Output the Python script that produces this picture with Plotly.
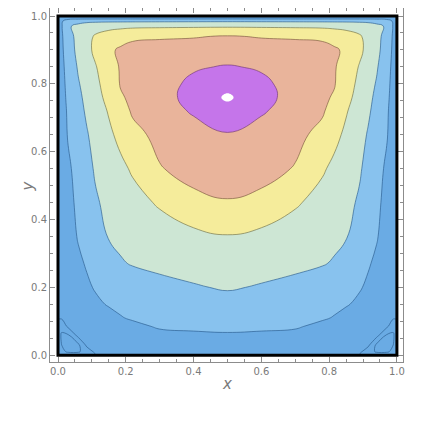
import plotly.graph_objects as go

# grid positions (nonuniform, denser near the walls and the lid)
x_vals = [0, 0.01, 0.03, 0.06, 0.085, 0.11, 0.15, 0.185, 0.22, 0.3, 0.4, 0.5,
          0.6, 0.7, 0.78, 0.815, 0.85, 0.89, 0.915, 0.94, 0.97, 0.99, 1.0]
y_vals = [0, 0.01, 0.03, 0.06, 0.085, 0.11, 0.15, 0.2, 0.27, 0.35, 0.45,
          0.55, 0.65, 0.72, 0.76, 0.8, 0.85, 0.9, 0.94, 0.97, 0.985, 0.995, 1.0]

# stream function values, in contour-level units
psi = [
    [-0.4, -0.4, -0.4, -0.4, -0.3, -0.03, 0.3, 0.3, 0.3, 0.3, 0.3, 0.3, 0.3, 0.3, 0.3, 0.3, 0.3, -0.03, -0.3, -0.4, -0.4, -0.4, -0.4],
    [-0.4, -0.8, -1.1, -1.1, -0.6, 0.2, 0.33, 0.345, 0.36, 0.38, 0.40, 0.41, 0.40, 0.38, 0.36, 0.345, 0.33, 0.2, -0.6, -1.1, -1.1, -0.8, -0.4],
    [-0.4, -0.98, -1.4, -1.2, 0.23, 0.45, 0.5, 0.525, 0.55, 0.58, 0.6, 0.62, 0.6, 0.58, 0.55, 0.525, 0.5, 0.45, 0.23, -1.2, -1.4, -0.98, -0.4],
    [-0.4, -1.1, -1.05, 0.4, 0.5, 0.6, 0.7, 0.75, 0.8, 0.87, 0.92, 0.94, 0.92, 0.87, 0.8, 0.75, 0.7, 0.6, 0.5, 0.4, -1.05, -1.1, -0.4],
    [-0.2, -0.7, 0.2, 0.32, 0.42, 0.52, 0.65, 0.76, 0.87, 1.06, 1.1, 1.15, 1.1, 1.06, 0.87, 0.76, 0.65, 0.52, 0.42, 0.32, 0.2, -0.7, -0.2],
    [0.05, 0.1, 0.19, 0.33, 0.45, 0.56, 0.75, 0.97, 1.06, 1.13, 1.23, 1.35, 1.23, 1.13, 1.06, 0.97, 0.75, 0.56, 0.45, 0.33, 0.19, 0.1, 0.05],
    [0.3, 0.35, 0.45, 0.6, 0.73, 0.85, 1.06, 1.12, 1.18, 1.3, 1.48, 1.67, 1.48, 1.3, 1.18, 1.12, 1.06, 0.85, 0.73, 0.6, 0.45, 0.35, 0.3],
    [0.3, 0.37, 0.51, 0.71, 0.88, 1.06, 1.15, 1.26, 1.37, 1.8, 1.93, 2.08, 1.93, 1.8, 1.37, 1.26, 1.15, 1.06, 0.88, 0.71, 0.51, 0.37, 0.3],
    [0.3, 0.39, 0.58, 0.86, 1.07, 1.26, 1.56, 1.9, 2.07, 2.16, 2.33, 2.5, 2.33, 2.16, 2.07, 1.9, 1.56, 1.26, 1.07, 0.86, 0.58, 0.39, 0.3],
    [0.3, 0.42, 0.66, 1.06, 1.29, 1.4, 2.07, 2.25, 2.33, 2.5, 2.73, 2.95, 2.73, 2.5, 2.33, 2.25, 2.07, 1.4, 1.29, 1.06, 0.66, 0.42, 0.3],
    [0.3, 0.45, 0.76, 1.18, 1.49, 1.88, 2.25, 2.45, 2.65, 3.12, 3.78, 3.94, 3.78, 3.12, 2.65, 2.45, 2.25, 1.88, 1.49, 1.18, 0.76, 0.45, 0.3],
    [0.3, 0.48, 0.85, 1.33, 1.71, 2.1, 2.44, 2.78, 3.12, 3.95, 4.3, 4.47, 4.3, 3.95, 3.12, 2.78, 2.44, 2.1, 1.71, 1.33, 0.85, 0.48, 0.3],
    [0.3, 0.55, 1.07, 1.55, 1.93, 2.3, 2.81, 3.27, 3.75, 4.23, 4.6, 4.93, 4.6, 4.23, 3.75, 3.27, 2.81, 2.3, 1.93, 1.55, 1.07, 0.55, 0.3],
    [0.3, 0.6, 1.13, 1.7, 2.13, 2.49, 3.08, 3.64, 4.1, 4.54, 5.11, 5.65, 5.11, 4.54, 4.1, 3.64, 3.08, 2.49, 2.13, 1.7, 1.13, 0.6, 0.3],
    [0.3, 0.65, 1.2, 1.8, 2.24, 2.63, 3.3, 3.91, 4.17, 4.64, 5.32, 6.15, 5.32, 4.64, 4.17, 3.91, 3.3, 2.63, 2.24, 1.8, 1.2, 0.65, 0.3],
    [0.3, 0.69, 1.27, 1.93, 2.36, 2.77, 3.44, 4.06, 4.21, 4.66, 5.19, 5.67, 5.19, 4.66, 4.21, 4.06, 3.44, 2.77, 2.36, 1.93, 1.27, 0.69, 0.3],
    [0.3, 0.74, 1.37, 2.1, 2.53, 2.93, 3.61, 4.08, 4.45, 4.7, 4.9, 5.07, 4.9, 4.7, 4.45, 4.08, 3.61, 2.93, 2.53, 2.1, 1.37, 0.74, 0.3],
    [0.3, 0.8, 1.52, 2.27, 2.73, 3.2, 3.85, 4.12, 4.25, 4.33, 4.42, 4.45, 4.42, 4.33, 4.25, 4.12, 3.85, 3.2, 2.73, 2.27, 1.52, 0.8, 0.3],
    [0.3, 0.84, 1.63, 2.31, 2.7, 3.1, 3.4, 3.65, 3.85, 3.9, 3.94, 4.06, 3.94, 3.9, 3.85, 3.65, 3.4, 3.1, 2.7, 2.31, 1.63, 0.84, 0.3],
    [0.3, 0.88, 1.9, 2.2, 2.45, 2.6, 2.72, 2.76, 2.8, 2.84, 2.87, 2.88, 2.87, 2.84, 2.8, 2.76, 2.72, 2.6, 2.45, 2.2, 1.9, 0.88, 0.3],
    [0.3, 0.85, 1.5, 1.75, 1.8, 1.82, 1.84, 1.845, 1.85, 1.86, 1.87, 1.88, 1.87, 1.86, 1.85, 1.845, 1.84, 1.82, 1.8, 1.75, 1.5, 0.85, 0.3],
    [0.3, 0.4, 0.45, 0.45, 0.45, 0.45, 0.45, 0.45, 0.45, 0.45, 0.45, 0.45, 0.45, 0.45, 0.45, 0.45, 0.45, 0.45, 0.45, 0.45, 0.45, 0.4, 0.3],
    [0.3, 0.3, 0.3, 0.3, 0.3, 0.3, 0.3, 0.3, 0.3, 0.3, 0.3, 0.3, 0.3, 0.3, 0.3, 0.3, 0.3, 0.3, 0.3, 0.3, 0.3, 0.3, 0.3],
]

tick_vals = [0.0, 0.2, 0.4, 0.6, 0.8, 1.0]
tick_text = ["0.0", "0.2", "0.4", "0.6", "0.8", "1.0"]

# band colours from the lowest level (eddy core) to the vortex centre
band_colors = ["#6AABE4", "#6AABE4", "#6AABE4", "#88C2EE", "#CDE6D4",
               "#F5EC9B", "#E9B49B", "#C575EA", "#FFFFFF"]

LEV_START, LEV_END = -1, 6
n_bands = len(band_colors)  # levels + 1

# stepped colorscale so each band gets one flat colour
colorscale = []
for k, c in enumerate(band_colors):
    lo = max(0.0, (k - 0.5) / (n_bands - 1))
    hi = min(1.0, (k + 0.5) / (n_bands - 1))
    colorscale.append([lo, c])
    colorscale.append([hi, c])

GRAY = "#7a7a7a"
SMOOTH = 1.3

fig = go.Figure()

fig.add_trace(go.Contour(
    x=x_vals, y=y_vals, z=psi,
    autocontour=False,
    contours=dict(start=LEV_START, end=LEV_END, size=1, coloring="fill"),
    colorscale=colorscale,
    showscale=False,
    line=dict(width=0, smoothing=SMOOTH),
    hoverinfo="skip",
))

# contour lines, coloured like Mathematica's darker edge tones
line_sets = [
    (-1, 2, "rgba(40,90,140,0.8)"),
    (3, 3, "rgba(110,110,70,0.8)"),
    (4, 4, "rgba(120,85,60,0.8)"),
    (5, 5, "rgba(110,50,120,0.8)"),
]
for start, end, col in line_sets:
    fig.add_trace(go.Contour(
        x=x_vals, y=y_vals, z=psi,
        autocontour=False,
        contours=dict(start=start, end=end, size=1, coloring="none"),
        line=dict(width=0.8, color=col, smoothing=SMOOTH),
        showscale=False,
        hoverinfo="skip",
    ))

# thick boundary of the cavity
fig.add_shape(type="rect", x0=0, y0=0, x1=1, y1=1, xref="x", yref="y",
              line=dict(color="black", width=3), layer="above")

axis_common = dict(
    showgrid=False, zeroline=False, automargin=False,
    showline=True, linecolor="#8c8c8c", linewidth=1, mirror="ticks",
    ticks="inside", ticklen=5, tickcolor="#8c8c8c", tickwidth=1,
    tickvals=tick_vals, ticktext=tick_text,
    tickfont=dict(family="DejaVu Sans", size=10, color=GRAY),
    minor=dict(ticks="inside", ticklen=3, tickcolor="#8c8c8c",
               tickvals=[i * 0.05 for i in range(21)]),
)

# the page body adds an 8px offset, so the margins are trimmed to compensate
fig.update_layout(
    width=440, height=423,
    margin=dict(l=42, r=45, t=0, b=69),
    paper_bgcolor="white", plot_bgcolor="white",
    xaxis=dict(range=[-0.0236, 1.018], **axis_common),
    yaxis=dict(range=[-0.02, 1.0236], **axis_common),
    showlegend=False,
    annotations=[
        dict(text="<i>x</i>", x=0.5, y=-0.093, xref="x", yref="paper",
             showarrow=False, font=dict(family="DejaVu Sans", size=15, color=GRAY)),
        dict(text="<i>y</i>", x=-0.0935, y=0.5, xref="paper", yref="y",
             showarrow=False, textangle=-90,
             font=dict(family="DejaVu Sans", size=15, color=GRAY)),
    ],
)

fig.write_html("out.html")
